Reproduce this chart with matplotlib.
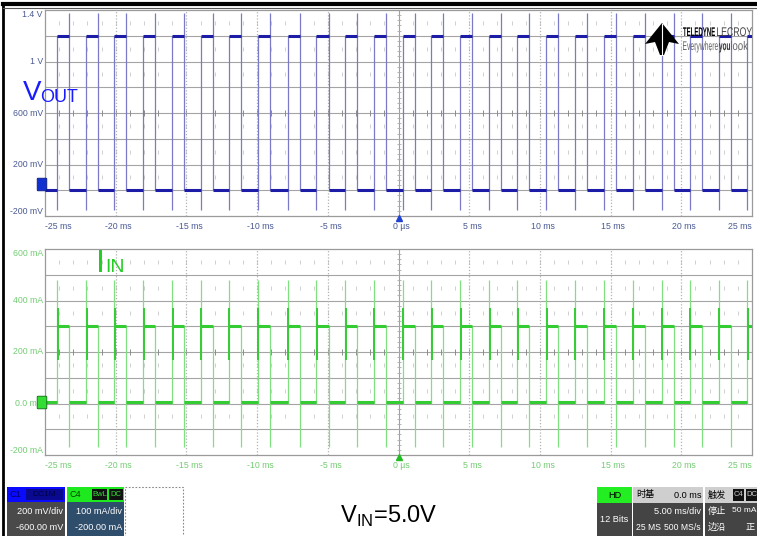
import numpy as np
import matplotlib
matplotlib.use('Agg')
import matplotlib.pyplot as plt
from matplotlib.patches import Rectangle, Polygon, FancyBboxPatch, PathPatch
from matplotlib.textpath import TextPath
from matplotlib.font_manager import FontProperties
from matplotlib.transforms import Affine2D

W, H = 757, 536

t_ticks = [-25, -20, -15, -10, -5, 0, 5, 10, 15, 20, 25]
t_labels = ['-25 ms', '-20 ms', '-15 ms', '-10 ms', '-5 ms', '0 µs',
            '5 ms', '10 ms', '15 ms', '20 ms', '25 ms']

# rising edge times (ms) of each pulse
rise_ms = [-24.15, -22.1, -20.1, -18.05, -16.0, -14.0, -12.0, -9.95, -7.85,
           -5.8, -3.75, -1.75, 0.3, 2.3, 4.35, 6.4, 8.4, 10.45, 12.45, 14.5,
           16.55, 18.6, 20.6, 22.65, 24.65]
high_ms = 0.85

vout_ticks = [1.4, 1.0, 0.6, 0.2, -0.2]
vout_labels = ['1.4 V', '1 V', '600 mV', '200 mV', '-200 mV']
vout_high, vout_low = 1.2, 0.0
vout_rise_span = (-0.15, 1.2)
vout_fall_span = (0.0, 1.38)

iin_ticks = [600, 400, 200, 0, -200]
iin_labels = ['600 mA', '400 mA', '200 mA', '0.0 mA', '-200 mA']
iin_high, iin_low = 300, 5
iin_rise_span = (0, 480)
iin_fall_span = (-170, 300)
iin_overshoot = (170, 370)

NARROW = ['Liberation Sans Narrow', 'Liberation Sans', 'DejaVu Sans']
CJK = ['Liberation Sans Narrow', 'Liberation Sans', 'Noto Sans CJK SC',
       'DejaVu Sans']

fig = plt.figure(figsize=(W / 100, H / 100), dpi=100)
fig.patch.set_facecolor('white')


def panel(ax, ylo, yhi, step, ticks, labels, lab_color):
    ax.set_xlim(-25, 25)
    ax.set_ylim(ylo, yhi)
    ax.set_xticks([])
    ax.set_yticks([])
    for s in ax.spines.values():
        s.set_color('#9a9a9a')
        s.set_linewidth(0.9)
    ymid = (ylo + yhi) / 2
    for y in np.arange(ylo + step, yhi - step / 2, step):
        ax.axhline(y, color='#a4a4a4', lw=0.8, zorder=1)
        if np.isclose(y, ymid):
            ax.plot(np.arange(-25, 25.01, 1.0), [y] * 51, ls='none',
                    marker='|', ms=4, color='#8c8c8c', mew=0.7, zorder=1)
        else:
            ax.plot(np.arange(-25, 25.01, 1.0), [y + step / 2] * 51,
                    ls='none', marker='|', ms=2.2, color='#c8c8c8',
                    mew=0.6, zorder=1)
    for t in t_ticks[1:-1]:
        if t == 0:
            ax.axvline(t, color='#a0a0a0', lw=0.8, zorder=1)
        else:
            ax.axvline(t, color='#b4b4b4', lw=0.9, ls=(0, (1, 1.5)), zorder=1)
    ax.plot([0] * 41, np.linspace(ylo, yhi, 41), ls='none', marker='_', ms=3,
            color='#ababab', mew=0.6, zorder=1)
    # tick labels
    ty = ax.get_yaxis_transform()
    for v, s in zip(ticks, labels):
        va = 'top' if v == yhi else ('bottom' if v == ylo else 'center')
        ax.text(-0.003, v, s, transform=ty, ha='right', va=va, fontsize=6.3,
                family=NARROW, color=lab_color, clip_on=False)
    tx = ax.get_xaxis_transform()
    for t, s in zip(t_ticks, t_labels):
        ha = 'left' if t == -25 else ('right' if t == 25 else 'center')
        xx = t if t in (-25, 25) else t + 0.2
        ax.text(xx, -0.05, s, transform=tx, ha=ha, va='center', fontsize=6.3,
                family=NARROW, color=lab_color, clip_on=False)


def trace(ax, hi, lo, rise_span, fall_span, flat_c, edge_c, over=None):
    edges = list(rise_ms)
    ax.plot([-25, edges[0]], [lo, lo], color=flat_c, lw=2.2, zorder=3,
            solid_capstyle='butt')
    for i, tr in enumerate(edges):
        tf = tr + high_ms
        nxt = edges[i + 1] if i + 1 < len(edges) else 25
        ax.plot([tr, min(tf, 25)], [hi, hi], color=flat_c, lw=2.2, zorder=3,
                solid_capstyle='butt')
        if tf < 25:
            ax.plot([tf, nxt], [lo, lo], color=flat_c, lw=2.2, zorder=3,
                    solid_capstyle='butt')
            ax.vlines(tf, *fall_span, color=edge_c, lw=0.9, zorder=2)
        ax.vlines(tr, *rise_span, color=edge_c, lw=0.9, zorder=2)
        if over is not None:
            ax.vlines(tr + 0.04, *over, color=flat_c, lw=1.4, zorder=2)


ax1 = fig.add_axes([45 / W, 1 - 216 / H, 707 / W, 206 / H])
panel(ax1, -0.2, 1.4, 0.2, vout_ticks, vout_labels, '#4a5a94')
trace(ax1, vout_high, vout_low, vout_rise_span, vout_fall_span,
      '#1c1ca6', '#7a7ac6')
ax1.plot([0], [-0.012], transform=ax1.get_xaxis_transform(), marker='^',
         ms=5, color='#2040d0', clip_on=False, zorder=5)

ax2 = fig.add_axes([45 / W, 1 - 455 / H, 707 / W, 206 / H])
panel(ax2, -200, 600, 100, iin_ticks, iin_labels, '#74cc74')
trace(ax2, iin_high, iin_low, iin_rise_span, iin_fall_span,
      '#33cc33', '#7ee07e', over=iin_overshoot)
ax2.plot([0], [-0.012], transform=ax2.get_xaxis_transform(), marker='^',
         ms=5, color='#22bb22', clip_on=False, zorder=5)

# ---- pixel overlay for screen decorations ----
ov = fig.add_axes([0, 0, 1, 1])
ov.set_xlim(0, W)
ov.set_ylim(H, 0)
ov.axis('off')
ov.set_zorder(10)
ov.patch.set_alpha(0)

# outer black frame
ov.plot([3, 3], [3, H], color='black', lw=2)
ov.plot([3, W], [4, 4], color='black', lw=3)
ov.plot([3, W], [8, 8], color='#555555', lw=0.8)

# channel labels
ov.text(23, 100, 'V', fontsize=20, color='#1a1aff', family='Liberation Sans')
ov.text(40.5, 102, 'OUT', fontsize=13, color='#1a1aff', family='Liberation Sans')
ov.text(96, 272, 'I', fontsize=23, color='#22cc22', family='Liberation Sans')
ov.text(105, 272, 'IN', fontsize=14, color='#22cc22', family='Liberation Sans')

# channel ground markers
ov.add_patch(FancyBboxPatch((38, 179), 8, 11, boxstyle='round,pad=0.8',
                            fc='#1030d0', ec='#0a1a80', lw=0.6))
ov.add_patch(FancyBboxPatch((38, 397), 8, 11, boxstyle='round,pad=0.8',
                            fc='#33dd33', ec='#116611', lw=0.6))


# logo (condensed lettering squeezed into a pixel box)
def squeeze(s, x0, x1, ybase, cap, color, weight='normal'):
    fp = FontProperties(family='Liberation Sans', weight=weight)
    p = TextPath((0, 0), s, size=1, prop=fp)
    ext = p.get_extents()
    sx = (x1 - x0) / ext.width
    sy = cap / 0.716
    tr = Affine2D().translate(-ext.x0, 0).scale(sx, -sy).translate(x0, ybase)
    ov.add_patch(PathPatch(tr.transform_path(p), fc=color, ec='none', lw=0))


ov.add_patch(Polygon([(645, 44), (662, 23), (679, 44), (669, 42), (664, 55),
                      (660, 55), (655, 42)], closed=True, fc='black', ec='none'))
ov.plot([662, 662], [24, 55], color='white', lw=0.8)
squeeze('TELEDYNE', 683, 715, 36, 9, 'black', weight='bold')
squeeze('LECROY', 717, 752, 36, 9, '#444444')
squeeze('Everywhere', 683, 718, 50, 9, '#666666')
squeeze('you', 719, 730, 50, 9, '#333333', weight='bold')
squeeze('look', 731, 748, 50, 9, '#666666')


# ---- status bar ----
def box(x0, y0, x1, y1, fc, ec='none', **kw):
    ov.add_patch(Rectangle((x0, y0), x1 - x0, y1 - y0, fc=fc, ec=ec, **kw))


def txt(x, y, s, ha='left', color='white', size=6.6, **kw):
    ov.text(x, y, s, ha=ha, va='center', fontsize=size, color=color,
            family=CJK, **kw)


# C1
box(7, 487, 65, 502, '#0a0aff')
box(26, 489, 63, 500, '#0a0a90')
txt(9, 494.5, 'C1', color='#000066')
txt(44, 494.5, 'DC1M', ha='center', color='#000044', size=6)
box(7, 502, 65, 536, '#4a4a4a')
txt(63, 511, '200 mV/div', ha='right')
txt(63, 527, '-600.00 mV', ha='right')
# C4
box(67, 487, 124, 502, '#1ee81e')
txt(69, 494.5, 'C4', color='#004400')
box(92, 489, 107, 500, '#111111')
box(109, 489, 123, 500, '#111111')
txt(99.5, 494.5, 'BwL', ha='center', color='#33dd33', size=5.5)
txt(116, 494.5, 'DC', ha='center', color='#33dd33', size=5.5)
box(67, 502, 124, 536, '#2f4e6c')
txt(122, 511, '100 mA/div', ha='right')
txt(122, 527, '-200.00 mA', ha='right')
# empty slot
box(125, 487, 183, 538, 'none', ec='#888888', lw=0.8, ls=(0, (1.5, 1.5)))

# input voltage note
plt.rcParams['mathtext.fontset'] = 'custom'
plt.rcParams['mathtext.rm'] = 'Liberation Sans'
ov.text(340, 523, r'V$_{\rm IN}$=5.0V', fontsize=17, color='black',
        family='Liberation Sans', va='baseline')

# HD
box(597, 487, 632, 503, '#22ee22')
txt(614.5, 495, 'HD', ha='center', color='black')
box(597, 503, 632, 536, '#444444')
txt(614.5, 519, '12 Bits', ha='center')
# timebase
box(633, 487, 703, 503, '#cfcfcf')
txt(636, 495, '时基', color='black')
txt(701, 495, '0.0 ms', ha='right', color='black')
box(633, 503, 703, 536, '#444444')
txt(701, 511, '5.00 ms/div', ha='right')
txt(636, 527, '25 MS', size=6.2)
txt(701, 527, '500 MS/s', ha='right', size=6.2)
# trigger
box(705, 487, 757, 503, '#cfcfcf')
txt(708, 495, '触发', color='black')
box(733, 489, 744, 501, '#111111')
box(746, 489, 757, 501, '#111111')
txt(738.5, 495, 'C4', ha='center', color='#cccccc', size=5.5)
txt(751.5, 495, 'DC', ha='center', color='#cccccc', size=5.5)
box(705, 503, 757, 536, '#444444')
txt(708, 511, '停止')
txt(756, 511, '50 mA', ha='right', size=6)
txt(708, 527, '边沿')
txt(746, 527, '正')

fig.savefig('out.png', dpi=100, facecolor='white')
